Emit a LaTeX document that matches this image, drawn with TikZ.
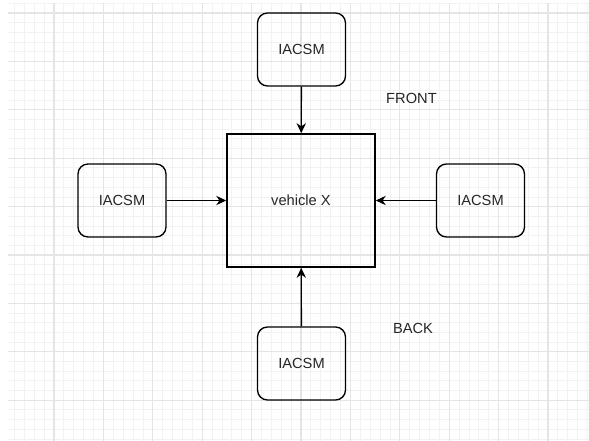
\documentclass[tikz,border=0pt]{standalone}
\usepackage{fontspec}
\setmainfont{Liberation Sans}
\usetikzlibrary{arrows.meta}

\begin{document}
\begin{tikzpicture}[x=0.75pt, y=-0.75pt,
  minor/.style={draw=black!5, line width=0.6pt},
  major/.style={draw=black!10, line width=0.8pt},
  every node/.style={font=\fontsize{11}{13}\selectfont, text=black!85, inner sep=0pt},
  unit/.style={draw, line width=1pt, rounded corners=7.5pt, minimum width=66pt, minimum height=54.75pt},
  body/.style={draw, line width=1.2pt, minimum width=111pt, minimum height=99.75pt}]
\useasboundingbox (0,0) rectangle (589,441);
\foreach \k in {-4,...,54} \draw[minor] ({54+9.88*\k},3) -- ({54+9.88*\k},441);
\foreach \k in {-1,...,44} \draw[minor] (8,{13+9.68*\k}) -- (589,{13+9.68*\k});
\foreach \k in {0,5,...,50} \draw[major] ({54+9.88*\k},3) -- ({54+9.88*\k},441);
\foreach \k in {0,5,...,40} \draw[major] (8,{13+9.68*\k}) -- (589,{13+9.68*\k});
\node[body] (veh) at (301,200.5) {vehicle X};
\node[unit] (i1) at (301.5,49.5)  {IACSM};
\node[unit] (i2) at (122,200.5)   {IACSM};
\node[unit] (i3) at (480.5,200.5) {IACSM};
\node[unit] (i4) at (301.5,363.5) {IACSM};
\node (front) at (411.5,98.5) {FRONT};
\node (back) at (413,328.5)   {BACK};
\draw[-{Stealth[length=7.5pt,width=7pt]},line width=1pt] (i1) -- (veh);
\draw[-{Stealth[length=7.5pt,width=7pt]},line width=1pt] (i2) -- (veh);
\draw[-{Stealth[length=7.5pt,width=7pt]},line width=1pt] (i3) -- (veh);
\draw[-{Stealth[length=7.5pt,width=7pt]},line width=1pt] (i4) -- (veh);
\end{tikzpicture}
\end{document}
